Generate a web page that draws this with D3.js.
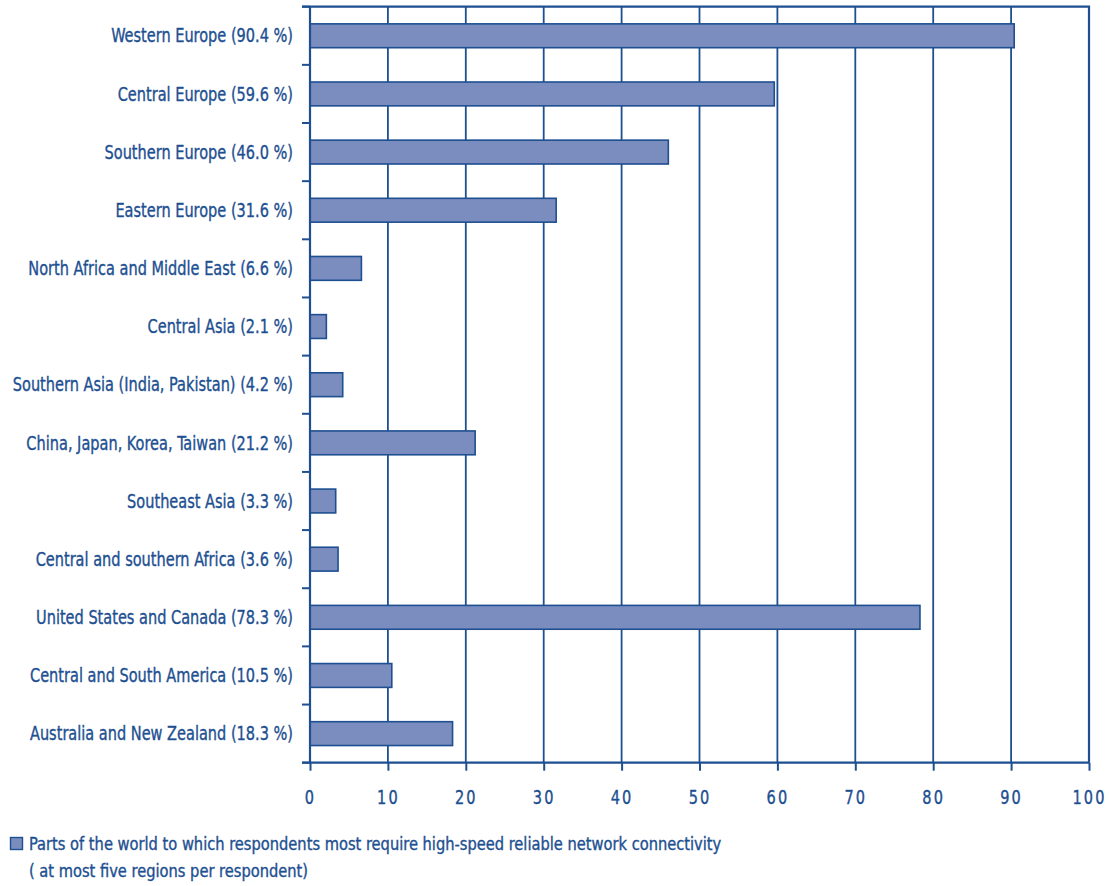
<!DOCTYPE html>
<html>
<head>
<meta charset="utf-8">
<script src="https://cdn.jsdelivr.net/npm/d3@7"></script>
<style>
  html, body { margin: 0; padding: 0; background: #fff; }
  svg { display: block; }
  text { font-family: "DejaVu Sans Condensed", "Liberation Sans Narrow", sans-serif; fill: #1d4f91; stroke: #1d4f91; stroke-width: 0.35px; }
</style>
</head>
<body>
<svg id="chart" width="1109" height="886"></svg>
<script>
// Regions and share of respondents (%)
const regions = [
  "Western Europe",
  "Central Europe",
  "Southern Europe",
  "Eastern Europe",
  "North Africa and Middle East",
  "Central Asia",
  "Southern Asia (India, Pakistan)",
  "China, Japan, Korea, Taiwan",
  "Southeast Asia",
  "Central and southern Africa",
  "United States and Canada",
  "Central and South America",
  "Australia and New Zealand"
];
const shares = [90.4, 59.6, 46.0, 31.6, 6.6, 2.1, 4.2, 21.2, 3.3, 3.6, 78.3, 10.5, 18.3];
const xTicks = [0, 10, 20, 30, 40, 50, 60, 70, 80, 90, 100];
const legendLines = [
  "Parts of the world to which respondents most require high-speed reliable network connectivity",
  "( at most five regions per respondent)"
];

const ink = "#1d4f91";
const barFill = "#7b8cbf";

const svg = d3.select("#chart");
const plotLeft = 310, plotRight = 1089, plotTop = 6.7, plotBottom = 762.7;

const x = d3.scaleLinear().domain([0, 100]).range([plotLeft, plotRight]);
const y = d3.scaleBand().domain(regions).range([plotTop, plotBottom]).paddingInner(0.59).paddingOuter(0.295);
const band = d3.scaleBand().domain(regions).range([plotTop, plotBottom]);

// horizontal squeeze that gives the labels a condensed look
function squeezeFor(sample, size, targetWidth) {
  const t = svg.append("text").attr("font-size", size).text(sample);
  const w = t.node().getComputedTextLength();
  t.remove();
  return w > 0 ? targetWidth / w : 1;
}
const labelSize = 19;
const labelSqueeze = squeezeFor("Western Europe (90.4 %)", labelSize, 182);
const legendSize = 17.5;
const legendSqueeze = squeezeFor(legendLines[0], legendSize, 693);

// vertical gridlines
svg.append("g").selectAll("line")
  .data(xTicks.filter(t => t > 0 && t < 100))
  .join("line")
  .attr("x1", d => x(d)).attr("x2", d => x(d))
  .attr("y1", plotTop).attr("y2", plotBottom)
  .attr("stroke", ink).attr("stroke-width", 1.8);

// bars
svg.append("g").selectAll("rect")
  .data(regions)
  .join("rect")
  .attr("x", x(0))
  .attr("y", d => y(d))
  .attr("width", (d, i) => x(shares[i]) - x(0))
  .attr("height", y.bandwidth())
  .attr("fill", barFill)
  .attr("stroke", ink)
  .attr("stroke-width", 1.6);

// frame: top and right edges
svg.append("path")
  .attr("d", `M${plotLeft - 8},${plotTop}H${plotRight}V${plotBottom}`)
  .attr("fill", "none").attr("stroke", ink).attr("stroke-width", 2.2);

// y axis with ticks at category boundaries
const yAxis = svg.append("g");
yAxis.append("line")
  .attr("x1", plotLeft).attr("x2", plotLeft).attr("y1", plotTop).attr("y2", plotBottom)
  .attr("stroke", ink).attr("stroke-width", 2.2);
const boundaries = regions.map(r => band(r)).concat([plotBottom]);
yAxis.selectAll("line.tick")
  .data(boundaries)
  .join("line").attr("class", "tick")
  .attr("x1", plotLeft - 8).attr("x2", plotLeft)
  .attr("y1", d => d).attr("y2", d => d)
  .attr("stroke", ink).attr("stroke-width", 2);
yAxis.selectAll("text")
  .data(regions)
  .join("text")
  .attr("transform", d => `translate(${plotLeft - 17},${band(d) + band.bandwidth() / 2}) scale(${labelSqueeze},1)`)
  .attr("dy", "0.35em")
  .attr("text-anchor", "end")
  .attr("font-size", labelSize)
  .text((d, i) => `${d} (${shares[i].toFixed(1)} %)`);

// x axis
const xAxis = svg.append("g").attr("transform", `translate(0,${plotBottom})`)
  .call(d3.axisBottom(x).tickValues(xTicks).tickSize(8).tickPadding(20).tickFormat(d3.format("d")));
xAxis.select(".domain").remove();
xAxis.insert("line", ":first-child")
  .attr("x1", plotLeft - 8).attr("x2", plotRight).attr("y1", 0).attr("y2", 0)
  .attr("stroke", ink).attr("stroke-width", 2.2);
xAxis.selectAll(".tick line").attr("stroke", ink).attr("stroke-width", 2);
xAxis.selectAll(".tick text")
  .attr("fill", ink)
  .attr("font-size", labelSize)
  .attr("letter-spacing", 2.5)
  .attr("transform", `scale(${labelSqueeze},1)`)
  .attr("font-family", "\"DejaVu Sans Condensed\", \"Liberation Sans Narrow\", sans-serif");

// legend
const legend = svg.append("g");
legend.append("rect")
  .attr("x", 10.5).attr("y", 837.5).attr("width", 12).attr("height", 12)
  .attr("fill", barFill).attr("stroke", ink).attr("stroke-width", 1.4);
legend.selectAll("text")
  .data(legendLines)
  .join("text")
  .attr("transform", (d, i) => `translate(29,${849.5 + i * 27}) scale(${legendSqueeze},1)`)
  .attr("font-size", legendSize)
  .text(d => d);
</script>
</body>
</html>
